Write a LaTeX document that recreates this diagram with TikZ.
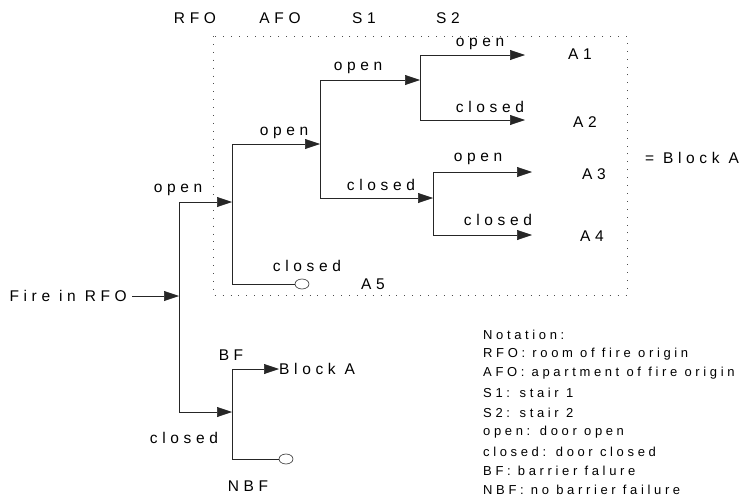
\documentclass[tikz,border=0pt]{standalone}
\usepackage{fontspec}
\setmainfont{Liberation Sans}
\newfontfamily\lab[LetterSpace=30]{Liberation Sans}
\newfontfamily\labn[LetterSpace=28]{Liberation Sans}
\usetikzlibrary{arrows.meta,shapes.geometric}
\begin{document}
\begin{tikzpicture}[x=1pt,y=-1pt,
  every node/.style={inner sep=0pt,font=\lab\fontsize{15.5}{17}\selectfont},
  ln/.style={line width=0.6pt,draw=black!85},
  arr/.style={ln,-{Triangle[length=15pt,width=10pt]}},
  term/.style={ellipse,draw=black!85,line width=0.6pt,minimum width=14pt,minimum height=10pt,inner sep=0pt},
  note/.style={anchor=west,font=\labn\fontsize{13}{15}\selectfont},
  box/.style={line width=0.9pt,draw=black!70,dash pattern=on 0.9pt off 7pt}]
\useasboundingbox (0,0) rectangle (746,501);
% dotted block
\draw[box] (213,36) rectangle (627,295);
% headers
\node (hRFO) at (195,18) {RFO};
\node (hAFO) at (280,18) {AFO};
\node (hS1) at (364,18) {S1};
\node (hS2) at (448,18) {S2};
% coordinates
\coordinate (r0) at (179,296);
\coordinate (r0t) at (179,202);
\coordinate (r0b) at (179,412);
\coordinate (a0) at (232,202);
\coordinate (a0t) at (232,144);
\coordinate (a0b) at (232,284);
\coordinate (s1) at (320,144);
\coordinate (s1t) at (320,80);
\coordinate (s1b) at (320,198);
\coordinate (s2a) at (420,80);
\coordinate (s2at) at (420,55);
\coordinate (s2ab) at (420,120);
\coordinate (s2b) at (433,198);
\coordinate (s2bt) at (433,172);
\coordinate (s2bb) at (433,235);
\coordinate (e1) at (525,55);
\coordinate (e2) at (525,120);
\coordinate (e3) at (532,172);
\coordinate (e4) at (532,235);
\coordinate (b0) at (232,412);
\coordinate (b0t) at (232,369);
\coordinate (b0b) at (232,459);
% start
\node[anchor=east] (fire) at (127,296) {Fire in RFO};
\draw[arr] ([xshift=5pt]fire.east) -- (r0);
\draw[ln] (r0t) -- (r0b);
% RFO open
\draw[arr] (r0t) -- (a0);
\draw[ln] (a0t) -- (a0b);
\node (lo1) at (178,190) {open};
% AFO open
\draw[arr] (a0t) -- (s1);
\node (lo2) at (284,133) {open};
\draw[ln] (s1t) -- (s1b);
% AFO closed
\node[term] (t5) at (302,284) {};
\draw[ln] (a0b) -- (t5.west);
\node (lc2) at (307,266) {closed};
\node (A5) at (373,284) {A5};
% S1 open / closed
\draw[arr] (s1t) -- (s2a);
\node (lo3) at (358,68) {open};
\draw[arr] (s1b) -- (s2b);
\node (lc3) at (381,185) {closed};
\draw[ln] (s2at) -- (s2ab);
\draw[ln] (s2bt) -- (s2bb);
% S2
\draw[arr] (s2at) -- (e1);
\node (lo4) at (480,44) {open};
\draw[arr] (s2ab) -- (e2);
\node (lc4) at (490,107) {closed};
\draw[arr] (s2bt) -- (e3);
\node (lo5) at (478,159) {open};
\draw[arr] (s2bb) -- (e4);
\node (lc5) at (498,220) {closed};
\node (A1) at (580,54) {A1};
\node (A2) at (585,122) {A2};
\node (A3) at (594,174) {A3};
\node (A4) at (592,236) {A4};
\node (blk) at (692,158) {= Block A};
% RFO closed
\draw[arr] (r0b) -- (b0);
\node (lc1) at (184,438) {closed};
\draw[ln] (b0t) -- (b0b);
\node (BF) at (231,355) {BF};
\node[anchor=west] (blkA) at (279,369) {Block A};
\draw[arr] (b0t) -- (blkA.west);
\node[term] (tN) at (286,459) {};
\draw[ln] (b0b) -- (tN.west);
\node (NBF) at (248,486) {NBF};
% notation
\node[note] (n0) at (483,335) {Notation:};
\node[note] (n1) at (483,354) {RFO: room of fire origin};
\node[note] (n2) at (483,373) {AFO: apartment of fire origin};
\node[note] (n3) at (483,393) {S1: stair 1};
\node[note] (n4) at (483,413) {S2: stair 2};
\node[note] (n5) at (483,432) {open: door open};
\node[note] (n6) at (483,452) {closed: door closed};
\node[note] (n7) at (483,471) {BF: barrier falure};
\node[note] (n8) at (483,490) {NBF: no barrier failure};
\end{tikzpicture}
\end{document}
